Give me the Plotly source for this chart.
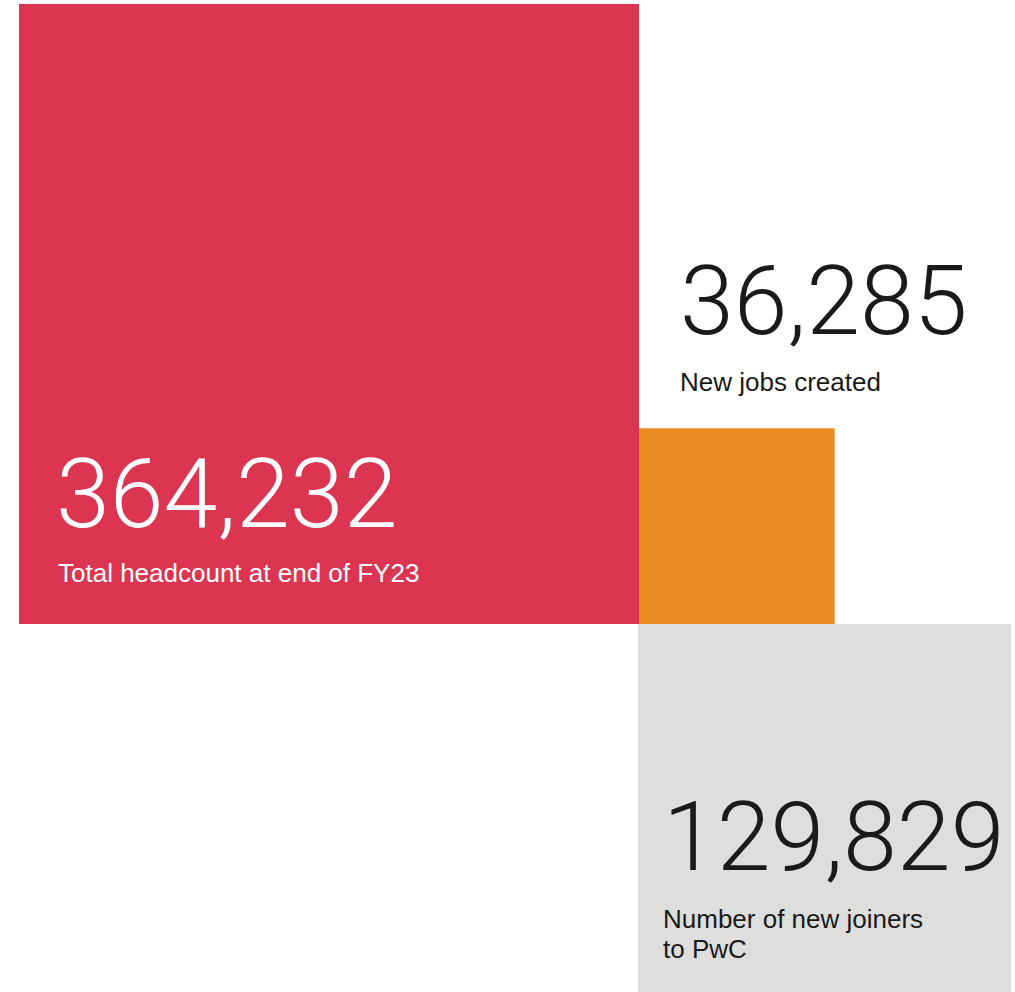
import math
import plotly.graph_objects as go

# Data
categories = ["Total headcount at end of FY23", "New jobs created", "Number of new joiners<br>to PwC"]
values = [364232, 36285, 129829]
value_labels = ["364,232", "36,285", "129,829"]
colors = ["#DB3552", "#EA8C23", "#DEDEDC"]
text_colors = ["#FFFFFF", "#1A1A1A", "#1A1A1A"]

W, H = 1015, 992
BASE_SIDE = 620
ORIGIN = (19, 4)

sides = [BASE_SIDE * math.sqrt(v / max(values)) for v in values]

# layout of squares: big one at origin, small one to its right aligned at bottom, medium one below-right
r_x0, r_y0 = ORIGIN
r_x1, r_y1 = r_x0 + sides[0], r_y0 + sides[0]
boxes = [
    (r_x0, r_y0, r_x1, r_y1),
    (r_x1, r_y1 - sides[1], r_x1 + sides[1], r_y1),
    (r_x1 - 1, r_y1, r_x1 - 1 + sides[2] + 3, r_y1 + sides[2] + 3),
]

fig = go.Figure()
for (x0, y0, x1, y1), c in zip(boxes, colors):
    fig.add_trace(go.Scatter(
        x=[x0, x1, x1, x0, x0], y=[y0, y0, y1, y1, y0],
        fill="toself", fillcolor=c, mode="lines", line=dict(width=0, color=c),
        hoverinfo="skip", showlegend=False,
    ))

NUM_FONT = dict(family="Roboto", size=97, weight=300)
LAB_FONT = dict(family="Liberation Sans", size=26)
LINE_GAP = 30

# text positions: (number x, label x, number centre y, first label line centre y)
text_pos = [
    (r_x0 + 35, r_x0 + 37, 494, 573),
    (r_x1 + 39, r_x1 + 39, 301, 382),
    (r_x1 + 22, r_x1 + 22, 837, 919),
]
for i, (nx, lx, ny, ly) in enumerate(text_pos):
    fig.add_annotation(x=nx, y=ny, xref="x", yref="y", text=value_labels[i],
                       showarrow=False, xanchor="left", yanchor="middle",
                       font=dict(color=text_colors[i], **NUM_FONT))
    for k, line in enumerate(categories[i].split("<br>")):
        fig.add_annotation(x=lx, y=ly + k * LINE_GAP, xref="x", yref="y", text=line,
                           showarrow=False, xanchor="left", yanchor="middle", align="left",
                           font=dict(color=text_colors[i], **LAB_FONT))

fig.update_layout(
    width=W, height=H, margin=dict(l=0, r=0, t=0, b=0),
    paper_bgcolor="white", plot_bgcolor="white",
    xaxis=dict(range=[0, W], visible=False, fixedrange=True),
    yaxis=dict(range=[H, 0], visible=False, fixedrange=True),
)
fig.write_html("out.html")
